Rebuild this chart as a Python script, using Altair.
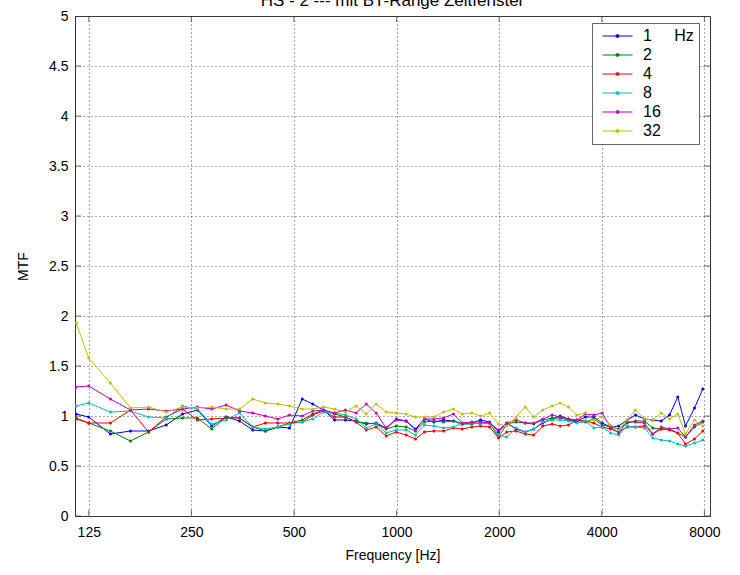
import altair as alt
import pandas as pd

# Frequencies (Hz) of the analysis bands
freqs = [114.8, 125, 144.7, 165.7, 187.1, 210.9, 235.4, 260.5, 286.9, 316.3,
         346, 378.5, 412.4, 448.2, 485, 528.5, 567.7, 610.3, 657.5, 708,
         761.2, 814.4, 871.4, 932.2, 997.3, 1067, 1136, 1207, 1287, 1373,
         1469, 1558, 1662, 1763, 1874, 1991, 2105, 2243, 2384, 2526,
         2685, 2861, 3020, 3194, 3377, 3583, 3790, 4011, 4242, 4486,
         4749, 5023, 5337, 5645, 5975, 6319, 6684, 7040, 7483, 7914]

mtf_1 = [1.02, 0.99, 0.82, 0.85, 0.85, 0.91, 1.02, 1.06, 0.90, 0.99,
         0.95, 0.86, 0.85, 0.89, 0.88, 1.17, 1.12, 1.06, 0.96, 0.96,
         0.95, 0.92, 0.93, 0.88, 0.97, 0.95, 0.87, 0.97, 0.94, 0.96,
         0.95, 0.92, 0.93, 0.96, 0.94, 0.84, 0.93, 0.87, 0.84, 0.87,
         0.93, 0.97, 1.00, 0.97, 0.95, 0.99, 0.99, 0.93, 0.89, 0.90,
         0.96, 1.01, 0.97, 0.96, 0.95, 1.01, 1.19, 0.90, 1.08, 1.27]
mtf_2 = [0.98, 0.93, 0.85, 0.75, 0.84, 0.97, 0.98, 0.98, 0.87, 0.99,
         0.98, 0.89, 0.85, 0.89, 0.93, 0.96, 1.02, 1.06, 1.02, 0.99,
         0.94, 0.93, 0.92, 0.87, 0.90, 0.89, 0.85, 0.94, 0.95, 0.94,
         0.95, 0.92, 0.92, 0.93, 0.93, 0.79, 0.92, 0.94, 0.93, 0.92,
         0.96, 0.98, 0.98, 0.96, 0.94, 0.94, 0.97, 0.91, 0.89, 0.87,
         0.93, 0.95, 0.95, 0.88, 0.87, 0.87, 0.83, 0.79, 0.89, 0.94]
mtf_4 = [0.97, 0.93, 0.93, 1.06, 0.84, 0.99, 1.07, 0.96, 0.97, 0.98,
         0.98, 0.89, 0.93, 0.93, 0.93, 0.94, 1.01, 1.05, 0.99, 0.99,
         0.94, 0.86, 0.89, 0.80, 0.84, 0.81, 0.77, 0.84, 0.85, 0.85,
         0.88, 0.87, 0.89, 0.90, 0.89, 0.78, 0.84, 0.85, 0.82, 0.81,
         0.90, 0.92, 0.90, 0.91, 0.96, 0.95, 0.93, 0.89, 0.87, 0.84,
         0.89, 0.89, 0.90, 0.82, 0.87, 0.86, 0.83, 0.72, 0.77, 0.85]
mtf_8 = [1.10, 1.13, 1.04, 1.05, 0.99, 0.98, 1.10, 1.07, 0.92, 0.96,
         1.03, 0.89, 0.87, 0.89, 0.92, 0.94, 0.97, 1.04, 1.03, 1.01,
         0.97, 0.88, 0.92, 0.83, 0.86, 0.86, 0.81, 0.91, 0.90, 0.88,
         0.89, 0.93, 0.93, 0.92, 0.93, 0.81, 0.79, 0.88, 0.84, 0.87,
         0.94, 0.96, 0.96, 0.95, 0.93, 0.95, 0.88, 0.89, 0.83, 0.81,
         0.90, 0.89, 0.88, 0.78, 0.76, 0.75, 0.72, 0.70, 0.73, 0.76]
mtf_16 = [1.29, 1.30, 1.17, 1.06, 1.07, 1.05, 1.07, 1.09, 1.07, 1.11,
          1.05, 1.03, 1.00, 0.97, 1.01, 1.00, 1.05, 1.06, 1.03, 1.06,
          1.03, 1.12, 1.03, 0.88, 0.96, 0.95, 0.86, 0.97, 0.97, 0.98,
          1.02, 0.93, 0.94, 0.94, 0.93, 0.86, 0.93, 0.96, 0.93, 0.93,
          0.97, 1.01, 0.99, 0.97, 0.96, 1.02, 1.01, 1.03, 0.89, 0.83,
          0.94, 0.94, 0.93, 0.82, 0.89, 0.87, 0.88, 0.79, 0.91, 0.95]
mtf_32 = [1.93, 1.58, 1.33, 1.08, 1.09, 1.04, 1.09, 1.08, 1.09, 1.07,
          1.07, 1.17, 1.13, 1.12, 1.10, 1.07, 1.07, 1.09, 1.07, 1.04,
          1.10, 1.02, 1.12, 1.04, 1.03, 1.02, 0.99, 0.99, 0.99, 1.04,
          1.07, 1.02, 1.03, 1.00, 1.03, 0.92, 0.90, 0.99, 1.09, 0.99,
          1.06, 1.10, 1.13, 1.09, 1.01, 1.03, 0.96, 0.99, 0.91, 0.86,
          0.96, 1.06, 0.97, 0.96, 1.03, 0.97, 1.02, 0.82, 0.96, 0.90]

mod_labels = ["1", "2", "4", "8", "16", "32"]
series = [mtf_1, mtf_2, mtf_4, mtf_8, mtf_16, mtf_32]
colors = ["#0000ff", "#008000", "#ff0000", "#00bfbf", "#bf00bf", "#bfbf00"]

x_ticks = [125, 250, 500, 1000, 2000, 4000, 8000]
y_ticks = [0, 0.5, 1, 1.5, 2, 2.5, 3, 3.5, 4, 4.5, 5]
x_domain = [113.9, 8309]
title_text = ["HS - 2 --- mit BT-Range Zeitfenster"]

rows = []
for lab, vals in zip(mod_labels, series):
    for f, v in zip(freqs, vals):
        rows.append({"freq": f, "mtf": v, "mod": lab})
df = pd.DataFrame(rows)
df_xt = pd.DataFrame({"freq": x_ticks})
df_yt = pd.DataFrame({"mtf": y_ticks})
df_title = pd.DataFrame({"t": title_text})

W, H = 635, 500
FONT = "Liberation Sans"

xscale = alt.Scale(type="log", domain=x_domain, nice=False)
yscale = alt.Scale(domain=[0, 5], nice=False)

# line sample (shifted right of the nominal symbol box) with a dot in the middle
legend_symbol = "M-0.333,0L3.667,0M1.467,0a0.2,0.2 0 1,0 0.4,0a0.2,0.2 0 1,0 -0.4,0"

lines = alt.Chart(df).mark_line(
    strokeWidth=1, clip=True,
    point=alt.OverlayMarkDef(size=9, filled=True, clip=True)
).encode(
    x=alt.X("freq:Q", scale=xscale,
            axis=alt.Axis(values=x_ticks, format="d", title="Frequency [Hz]",
                          grid=True, gridDash=[1, 3], gridColor="#555",
                          ticks=False, labelPadding=9, titlePadding=9,
                          domain=False)),
    y=alt.Y("mtf:Q", scale=yscale,
            axis=alt.Axis(values=y_ticks, format=".1~f", title="MTF",
                          grid=True, gridDash=[1, 3], gridColor="#555",
                          ticks=False, labelPadding=7, titlePadding=18,
                          domain=False)),
    color=alt.Color("mod:N", sort=mod_labels,
                    scale=alt.Scale(domain=mod_labels, range=colors),
                    legend=alt.Legend(
                        title=None, orient="none", legendX=517, legendY=7,
                        symbolType=legend_symbol, symbolSize=225,
                        symbolStrokeWidth=1, labelFontSize=16, labelFont=FONT,
                        labelColor="#000",
                        labelOffset=30, rowPadding=3, padding=5,
                        strokeColor="#666", fillColor="white",
                        labelExpr="datum.label == '1' ? '1\u00a0\u00a0\u00a0\u00a0\u00a0Hz\u00a0\u00a0\u00a0' : datum.label")),
    detail="mod:N",
)

tick_color = "#333"
xt_bottom = alt.Chart(df_xt).mark_tick(size=12, thickness=1, color=tick_color, clip=True).encode(
    x=alt.X("freq:Q", scale=xscale), y=alt.value(H))
xt_top = alt.Chart(df_xt).mark_tick(size=12, thickness=1, color=tick_color, clip=True).encode(
    x=alt.X("freq:Q", scale=xscale), y=alt.value(0))
yt_left = alt.Chart(df_yt).mark_tick(size=12, thickness=1, color=tick_color, clip=True).encode(
    y=alt.Y("mtf:Q", scale=yscale), x=alt.value(0))
yt_right = alt.Chart(df_yt).mark_tick(size=12, thickness=1, color=tick_color, clip=True).encode(
    y=alt.Y("mtf:Q", scale=yscale), x=alt.value(W))

# title, sitting at the very top edge as in the reference
title = alt.Chart(df_title).mark_text(
    font=FONT, fontSize=17, color="#000", baseline="alphabetic", align="center"
).encode(text="t:N", x=alt.value(W / 2), y=alt.value(-10))

chart = alt.layer(lines, xt_bottom, xt_top, yt_left, yt_right, title).properties(
    width=W, height=H,
    background="white",
    autosize=alt.AutoSizeParams(type="none"),
    padding={"left": 75, "top": 16, "right": 30, "bottom": 59},
).configure_view(
    stroke="#333", strokeWidth=1
).configure_axis(
    labelFont=FONT, labelFontSize=14, labelColor="#000",
    titleFont=FONT, titleFontSize=14, titleFontWeight="normal", titleColor="#000",
)

chart.save("out.html", embed_options={"renderer": "svg", "actions": False})
